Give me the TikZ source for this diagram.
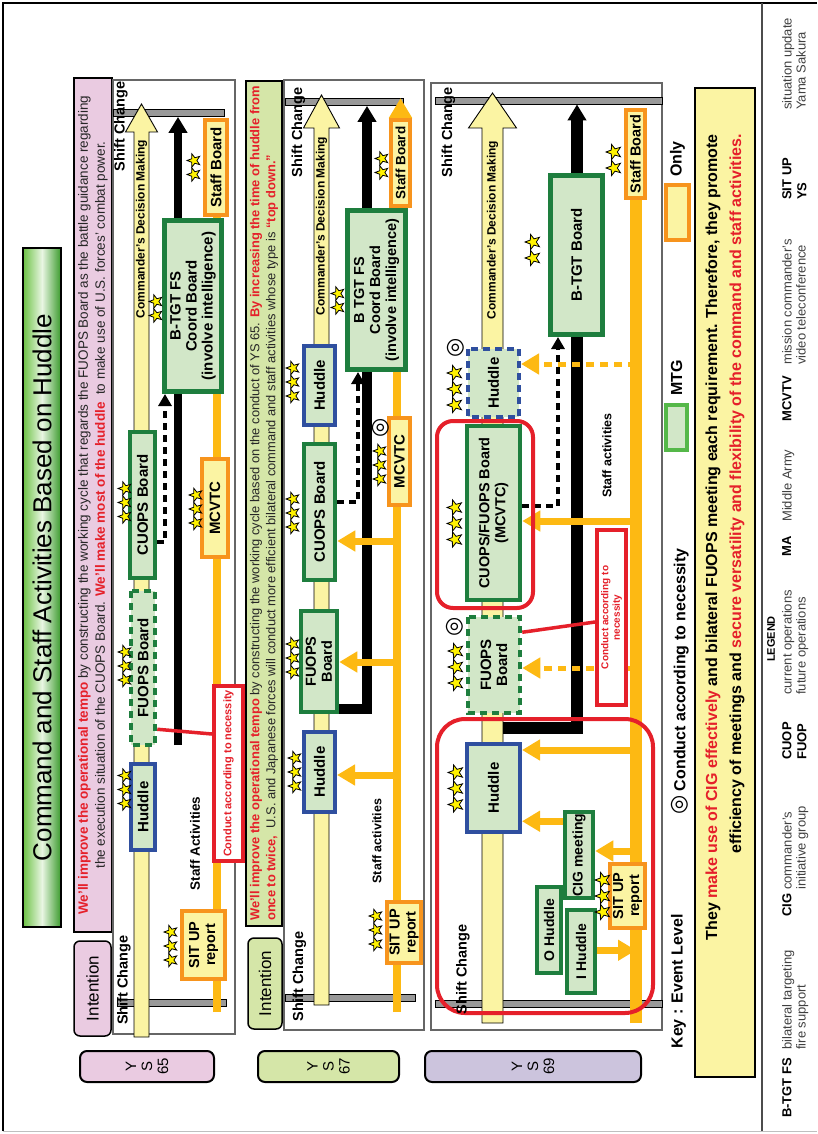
\documentclass[tikz,border=0pt]{standalone}
\usepackage{fontspec}
\setmainfont{Liberation Sans}
\newfontfamily\symfont{DejaVu Sans}
\usetikzlibrary{arrows.meta, positioning, shapes.geometric, calc, backgrounds}
\pgfdeclarelayer{links}
\pgfsetlayers{background,links,main}

\definecolor{pinkbg}{HTML}{EACBE1}
\definecolor{limebg}{HTML}{D5E6A8}
\definecolor{lilacbg}{HTML}{CCC4DD}
\definecolor{mtgfill}{HTML}{D2E7C8}
\definecolor{mtggreen}{HTML}{1E7E3E}
\definecolor{keygreen}{HTML}{55B849}
\definecolor{hudblue}{HTML}{2F4F9F}
\definecolor{orbox}{HTML}{F7941D}
\definecolor{orline}{HTML}{FDB913}
\definecolor{paleyel}{HTML}{FBF4A3}
\definecolor{redline}{HTML}{E5202A}
\definecolor{ttllight}{HTML}{6CC244}
\definecolor{ttldark}{HTML}{3A9A2C}

\newcommand{\redbf}[1]{\textcolor{redline}{\bfseries #1}}
% row of event-level stars: name, count, centre x, y, size
\newcommand{\starrow}[5]{%
  \foreach \k in {1,...,#2}
    \node[starmark=#5] (#1\k) at ({#3+(\k-1-(#2-1)/2)*#5},#4) {};}
% decision arrow: start x, centre y, half shaft, head x, half head, tip x
\newcommand{\cdmshaft}[6]{%
  \draw[black, line width=0.9pt, fill=paleyel]
    (#1,#2+#3) -- (#4,#2+#3) -- (#4,#2+#5) -- (#6,#2) -- (#4,#2-#5)
    -- (#4,#2-#3) -- (#1,#2-#3) -- cycle;}

\tikzset{
  meet/.style={rectangle, draw=mtggreen, line width=4.5pt, fill=mtgfill, text=black,
               font=\fontsize{15}{16}\selectfont\bfseries, align=center, inner sep=0pt},
  meetdash/.style={meet, dash pattern=on 7pt off 5pt},
  hudbox/.style={meet, draw=hudblue, line width=4pt},
  hudboxdash/.style={hudbox, dash pattern=on 7pt off 5pt},
  onlybox/.style={rectangle, draw=orbox, line width=4pt, fill=paleyel,
               font=\fontsize{14.5}{16}\selectfont\bfseries, align=center, inner sep=0pt},
  necbox/.style={rectangle, draw=redline, line width=4pt, fill=white, text=redline,
               font=\fontsize{11}{12.5}\selectfont\bfseries, align=center, inner sep=0pt},
  grpline/.style={rectangle, draw=redline, line width=4pt, inner sep=0pt},
  fs/.style={font=\fontsize{#1}{16}\selectfont\bfseries},
  panel/.style={rectangle, draw=black!60, line width=1.2pt, inner sep=0pt},
  shiftbar/.style={rectangle, draw=black, line width=0.8pt, fill=black!40,
               minimum width=7pt, inner sep=0pt},
  stmtbox/.style={rectangle, draw=black, line width=1.5pt, inner sep=0pt, align=center,
               text=black!85, font=\fontsize{13.5}{17}\selectfont},
  intent/.style={rectangle, rounded corners=6pt, draw=black, line width=1.5pt, inner sep=0pt,
               font=\fontsize{17}{18}\selectfont},
  ysbox/.style={rectangle, rounded corners=7pt, draw=black, line width=2pt, inner sep=0pt,
               align=center, font=\fontsize{15}{16}\selectfont},
  starmark/.style={star, star points=5, star point ratio=2.4, draw=black, fill=yellow,
               line width=0.8pt, minimum size=#1pt, inner sep=0pt},
  starmark/.default=14,
  dcirc/.style={inner sep=0pt, font=\symfont\fontsize{22}{22}\selectfont},
  lbl/.style={inner sep=0pt, font=\fontsize{#1}{#1}\selectfont\bfseries},
  lbl/.default=13,
  blk/.style={draw=black, line width=#1, -{Triangle[length=16pt, width=18pt]}},
  oline/.style={draw=orline, line width=#1},
  obr/.style={draw=orline, line width=7pt, -{Triangle[length=18pt, width=20pt]}},
  obrdash/.style={obr, line width=5pt, dash pattern=on 8pt off 6pt},
  bdash/.style={draw=black, line width=4pt, dash pattern=on 7pt off 5pt,
               -{Triangle[length=12pt, width=13pt]}},
  redl/.style={draw=redline, line width=3.5pt},
  legab/.style={inner sep=0pt, anchor=north west, align=left,
               font=\fontsize{13}{15}\selectfont\bfseries},
  legtx/.style={inner sep=0pt, anchor=north west, align=left, text=black!75,
               font=\fontsize{13}{14}\selectfont},
}

\begin{document}
\begin{tikzpicture}[x=1pt, y=1pt]
\useasboundingbox (0,0) rectangle (817,-1134);
\begin{scope}[shift={(0,-1134)}, rotate=90, transform shape]
  %% page frame and legend rule
  \draw[black!25, line width=1pt] (3,-3) -- (3,-817);
  \draw[black, line width=2.4pt] (3,-3) -- (1131,-3) -- (1131,-817);
  \draw[black!70, line width=2pt] (3,-762) -- (1131,-762);

  %% title
  \node[draw=black, line width=1.8pt, minimum width=679pt, minimum height=38pt, inner sep=0pt,
        left color=ttllight, right color=ttldark, middle color=white!85!ttllight,
        font=\fontsize{26}{28}\selectfont] (title) at (546.5,-42)
        {Command and Staff Activities Based on Huddle};

  %% ---------------- YS 65 ----------------
  \begin{scope}[on background layer]
    \node[ysbox, fill=pinkbg, minimum width=31pt, minimum height=134pt] (ys65) at (67.5,-147) {Y\\S\\65};
    \node[intent, fill=pinkbg, minimum width=95pt, minimum height=37pt] (int65) at (145.5,-92.5) {Intention};
    \node[stmtbox, fill=pinkbg, minimum width=854pt, minimum height=38pt] (aim65) at (629,-93)
      {\redbf{We'll improve the operational tempo} by constructing the working cycle that regards the FUOPS Board as the battle guidance regarding\\
       the execution situation of the CUOPS Board. \redbf{We'll make most of the huddle}\ \ to make use of U.S. forces' combat power.};
    \node[panel, minimum width=954pt, minimum height=122pt] (pan65) at (577,-174) {};
    \node[shiftbar, minimum height=111pt] (top65) at (1021,-168.5) {};
    \node[shiftbar, minimum height=109pt] (bot65) at (131.5,-171.5) {};
    \cdmshaft{97}{-141.5}{7.5}{1002}{16}{1030}
  \end{scope}
  \node[lbl=12] (cdm65) at (905,-141.5) {Commander's Decision Making};
  \node[lbl=14.5] (sct65) at (1007.5,-121) {Shift Change};
  \node[lbl=14.5] (scb65) at (154,-124) {Shift Change};
  \node[onlybox, minimum width=68pt, minimum height=43pt] (sit65) at (189,-203.5) {SIT UP\\report};
  \node[hudbox, minimum width=86pt, minimum height=24pt] (hud65) at (327,-143) {Huddle};
  \node[meetdash, minimum width=154pt, minimum height=24pt] (fu65) at (466,-143) {FUOPS Board};
  \node[meet, minimum width=146pt, minimum height=25pt] (cu65) at (629,-142.5) {CUOPS Board};
  \node[onlybox, fs=15, minimum width=98pt, minimum height=26pt] (mc65) at (626,-215) {MCVTC};
  \node[meet, line width=5pt, minimum width=171pt, minimum height=57pt] (bt65) at (828,-193)
    {B-TGT FS\\Coord Board\\(involve intelligence)};
  \node[onlybox, fs=15, minimum width=95pt, minimum height=22pt] (sb65) at (966.5,-216) {Staff Board};
  \node[necbox, minimum width=175pt, minimum height=29pt] (nec65) at (360.5,-228.5) {Conduct according to necessity};
  \node[lbl=13.5] (sa65) at (290.5,-195) {Staff Activities};
  \starrow{st65a}{3}{188}{-171}{14}
  \starrow{st65b}{3}{344.5}{-125}{14}
  \starrow{st65c}{3}{468}{-125}{14}
  \starrow{st65d}{3}{631.5}{-125}{14}
  \starrow{st65e}{3}{625}{-196}{14}
  \starrow{st65f}{2}{825.5}{-156}{14}
  \starrow{st65g}{2}{966.5}{-194}{14}
  \begin{pgfonlayer}{links}
    \coordinate (bk65) at (389,-178);
    \draw[blk=8pt] (bk65) -- (bk65 -| top65.west);
    \coordinate (or65) at (122,-216.5);
    \draw[oline=8pt] (or65) -- (or65 -| sb65.west);
    \coordinate (dk65) at (592,-165);
    \draw[bdash] (dk65 |- cu65.south) -- (dk65) -- (dk65 -| bt65.west);
    \draw[redl] ($(fu65.south west)+(18,0)$) -- ($(nec65.north west)+(129,0)$);
  \end{pgfonlayer}

  %% ---------------- YS 67 ----------------
  \begin{scope}[on background layer]
    \node[ysbox, fill=limebg, minimum width=31pt, minimum height=141pt] (ys67) at (67.5,-328.5) {Y\\S\\67};
    \node[intent, fill=limebg, minimum width=91pt, minimum height=34pt] (int67) at (150.5,-265) {Intention};
    \node[stmtbox, fill=limebg, align=left, font=\fontsize{12.9}{16}\selectfont,
          minimum width=845pt, minimum height=36pt] (aim67) at (630.5,-264)
      {\redbf{We'll improve the operational tempo} by constructing the working cycle based on the conduct of YS 65. \redbf{By increasing the time of huddle from}\\
       \redbf{once to twice,}\ \ U.S. and Japanese forces will conduct more efficient bilateral command and staff activities whose type is \redbf{``top down.''}};
    \node[panel, minimum width=950pt, minimum height=140pt] (pan67) at (579,-354) {};
    \node[shiftbar, minimum height=118pt] (top67) at (1032,-344) {};
    \node[shiftbar, minimum height=130pt] (bot67) at (136.5,-350) {};
    \cdmshaft{129}{-321.5}{7.5}{1006}{18}{1039}
  \end{scope}
  \node[lbl=12] (cdm67) at (908,-321.5) {Commander's Decision Making};
  \node[lbl=14.5] (sct67) at (1001.5,-298.5) {Shift Change};
  \node[lbl=14.5] (scb67) at (157.5,-299.5) {Shift Change};
  \node[onlybox, minimum width=61pt, minimum height=34pt] (sit67) at (201.5,-404) {SIT UP\\report};
  \node[hudbox, minimum width=80pt, minimum height=31pt] (hud67a) at (362,-319.5) {Huddle};
  \node[meet, fs=14.5, minimum width=101pt, minimum height=36pt] (fu67) at (472.5,-319) {FUOPS\\Board};
  \node[meet, minimum width=136pt, minimum height=31pt] (cu67) at (622,-319.5) {CUOPS Board};
  \node[hudbox, minimum width=79pt, minimum height=31pt] (hud67b) at (748.5,-319.5) {Huddle};
  \node[onlybox, fs=15, minimum width=87pt, minimum height=21pt] (mc67) at (672.5,-399.5) {MCVTC};
  \node[meet, fs=14.5, line width=5pt, minimum width=159pt, minimum height=58pt] (bt67) at (844,-376.5)
    {B TGT FS\\Coord Board\\(involve intelligence)};
  \node[onlybox, fs=13.5, minimum width=86pt, minimum height=19pt] (sb67) at (971,-400.5) {Staff Board};
  \node[lbl=12.5] (sa67) at (293,-377) {Staff activities};
  \node[dcirc] (dc67) at (706,-381) {◎};
  \starrow{st67a}{3}{204}{-376}{14}
  \starrow{st67b}{3}{362}{-295}{14}
  \starrow{st67c}{3}{476}{-293}{14}
  \starrow{st67d}{3}{621}{-293}{14}
  \starrow{st67e}{3}{752}{-293}{14}
  \starrow{st67f}{3}{669}{-380}{14}
  \starrow{st67g}{2}{833.5}{-338}{14}
  \starrow{st67h}{2}{968.5}{-382}{14}
  \begin{pgfonlayer}{links}
    \coordinate (bk67) at (425,-367);
    \draw[blk=10pt] (bk67 |- fu67.south) -- (bk67) -- (bk67 -| top67.west);
    \coordinate (or67) at (122,-397);
    \draw[oline=8pt] (or67) -- (or67 -| sb67.west);
    \draw[oline=8pt, -{Triangle[length=20pt, width=22pt]}] (sb67.east) -- (sb67.east -| top67.east);
    \foreach \bx/\tg [count=\i] in {593/cu67, 472/fu67, 359/hud67a} {
      \coordinate (ob67\i) at (\bx,-397);
      \draw[obr] (ob67\i) -- (ob67\i |- \tg.south);
    }
    \coordinate (dk67) at (632,-358);
    \draw[bdash] (dk67 |- cu67.south) -- (dk67) -- (dk67 -| bt67.west);
  \end{pgfonlayer}

  %% ---------------- YS 69 ----------------
  \begin{scope}[on background layer]
    \node[ysbox, fill=lilacbg, minimum width=31pt, minimum height=216pt] (ys69) at (67.5,-533) {Y\\S\\69};
    \node[panel, minimum width=947pt, minimum height=231pt] (pan69) at (577.5,-546.5) {};
    \node[shiftbar, minimum height=227pt] (top69) at (1033.5,-548.5) {};
    \node[shiftbar, minimum height=227pt] (bot69) at (130.5,-548.5) {};
    \cdmshaft{111}{-492.5}{10.5}{1006}{24}{1041}
  \end{scope}
  \node[lbl=12] (cdm69) at (904,-492.5) {Commander's Decision Making};
  \node[lbl=14.5] (sct69) at (1001.5,-448.5) {Shift Change};
  \node[lbl=14.5] (scb69) at (164.5,-463) {Shift Change};
  \node[hudboxdash, minimum width=68pt, minimum height=51pt] (hud69d) at (751,-493.5) {Huddle};
  \node[meet, fs=14.5, minimum width=174pt, minimum height=53pt] (cf69) at (621,-493.5) {CUOPS/FUOPS Board\\(MCVTC)};
  \node[meet, line width=5pt, minimum width=159pt, minimum height=52pt] (bt69) at (879,-576.5) {B-TGT Board};
  \node[onlybox, minimum width=88pt, minimum height=19pt] (sb69) at (980,-635.5) {Staff Board};
  \node[meetdash, minimum width=96pt, minimum height=52pt] (fu69) at (469,-494) {FUOPS\\Board};
  \node[necbox, font=\fontsize{10}{11.5}\selectfont\bfseries, minimum width=175pt, minimum height=29pt]
    (nec69) at (516.5,-611.5) {Conduct according to\\necessity};
  \node[hudbox, minimum width=88pt, minimum height=53pt] (hud69) at (346,-493.5) {Huddle};
  \node[meet, fs=14, minimum width=86pt, minimum height=24pt] (oh69) at (204,-549) {O Huddle};
  \node[meet, fs=14, minimum width=83pt, minimum height=28pt] (ih69) at (182.5,-581) {I Huddle};
  \node[meet, fs=14, minimum width=86pt, minimum height=28pt] (cig69) at (279,-579) {CIG meeting};
  \node[onlybox, minimum width=64pt, minimum height=35pt] (sit69) at (238,-627.5) {SIT UP\\report};
  \node[lbl=12.5] (sa69) at (678.5,-607) {Staff activities};
  \node[dcirc] (dc69a) at (507,-455) {◎};
  \node[dcirc] (dc69b) at (786,-456) {◎};
  \starrow{st69a}{3}{238}{-603}{16}
  \starrow{st69b}{3}{345.5}{-456}{16}
  \starrow{st69c}{3}{467}{-456}{16}
  \starrow{st69d}{3}{610.5}{-455}{16}
  \starrow{st69e}{3}{745}{-455}{16}
  \starrow{st69f}{2}{884}{-533}{16}
  \starrow{st69g}{2}{974}{-614}{16}
  \begin{pgfonlayer}{links}
    \coordinate (bk69a) at (406,-503);
    \coordinate (bk69b) at (406,-577);
    \draw[blk=12pt] (bk69a) -- (bk69b) -- (bk69b -| top69.west);
    \coordinate (or69) at (111,-636);
    \draw[oline=12pt] (or69) -- (or69 -| sb69.west);
    \foreach \bx/\tg [count=\i] in {613/cf69, 384/hud69, 283/cig69} {
      \coordinate (ob69\i) at (\bx,-636);
      \draw[obr] (ob69\i) -- (ob69\i |- \tg.south);
    }
    \foreach \bx/\tg [count=\i] in {770/hud69d, 466/fu69} {
      \coordinate (od69\i) at (\bx,-636);
      \draw[obrdash] (od69\i) -- (od69\i |- \tg.south);
    }
    \coordinate (cg69) at ($(cig69.north west)+(79,0)$);
    \draw[obr] (cg69) -- (cg69 |- hud69.south);
    \coordinate (ih69o) at ($(ih69.south west)+(45,0)$);
    \draw[obr] (ih69o) -- (ih69o |- or69);
    \coordinate (dk69) at (628,-558);
    \draw[bdash] (dk69 |- cf69.south) -- (dk69) -- (dk69 -| bt69.west);
    \draw[redl] ($(fu69.south west)+(83,0)$) -- ($(nec69.north west)+(85,0)$);
    \node[grpline, minimum width=187pt, minimum height=96pt, rounded corners=16pt] (grpA) at (619.5,-485) {};
    \node[grpline, minimum width=294pt, minimum height=216pt, rounded corners=28pt] (grpB) at (268,-545) {};
  \end{pgfonlayer}

  %% ---------------- key ----------------
  \node[lbl=16] (key) at (152.5,-678.5) {Key : Event Level};
  \node[lbl=16] (necnote) at (452.5,-680) {{\symfont\fontsize{22}{22}\selectfont ◎} Conduct according to necessity};
  \node[rectangle, draw=keygreen, line width=4pt, fill=mtgfill, minimum width=45pt, minimum height=21pt]
    (mtgkey) at (706.5,-676.5) {};
  \node[lbl=16, right=7pt of mtgkey] (mtgtxt) {MTG};
  \node[onlybox, minimum width=55pt, minimum height=23pt] (onlykey) at (921.5,-677.5) {};
  \node[lbl=16, right=6pt of onlykey] (onlytxt) {Only};

  %% conclusion
  \node[draw=black, line width=2pt, fill=paleyel, minimum width=989pt, minimum height=60pt, inner sep=0pt]
    (concl) at (551.5,-725) {};
  \node[inner sep=0pt, align=right, anchor=east, font=\fontsize{16}{24}\selectfont\bfseries] (concltxt) at (1000,-725)
    {They \textcolor{redline}{make use of CIG effectively} and bilateral FUOPS meeting each requirement. Therefore, they promote\\
     efficiency of meetings and \textcolor{redline}{secure versatility and flexibility of the command and staff activities.}};

  %% legend
  \node[lbl=11] (legend) at (495,-771) {LEGEND};
  \node[legab] (abbt) at (16,-782) {B-TGT FS};
  \node[legtx] (txbt) at (84,-782) {bilateral targeting\\fire support};
  \node[legab] (abcig) at (217,-782) {CIG};
  \node[legtx] (txcig) at (244,-782) {commander's\\initiative group};
  \node[legab] (abops) at (374,-782) {CUOP\\FUOP};
  \node[legtx] (txops) at (439,-782) {current operations\\future operations};
  \node[legab] (abma) at (577,-782) {MA};
  \node[legtx] (txma) at (612,-782) {Middle Army};
  \node[legab] (abmc) at (712,-782) {MCVTV};
  \node[legtx] (txmc) at (769,-782) {mission commander's\\video teleconference};
  \node[legab] (absit) at (934,-782) {SIT UP\\YS};
  \node[legtx] (txsit) at (1024,-782) {situation update\\Yama Sakura};
\end{scope}
\end{tikzpicture}
\end{document}
